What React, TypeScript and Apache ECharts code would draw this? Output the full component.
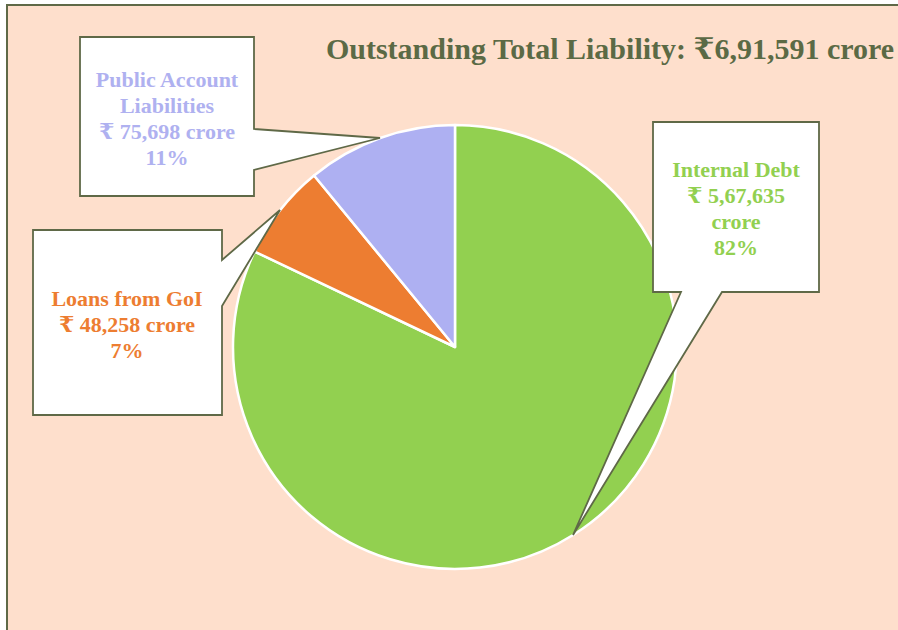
import React, { useEffect, useRef } from "react";
import * as echarts from "echarts";

const categories = ["Internal Debt", "Loans from GoI", "Public Account Liabilities"];
const labelLines = [["Internal Debt"], ["Loans from GoI"], ["Public Account", "Liabilities"]];
const values = [567635, 48258, 75698];
const totalLiability = 691591;
const colors = ["#92D050", "#ED7D31", "#AEB0F2"];
const textColors = ["#92D050", "#ED7D31", "#AFB1F0"];

function indianFormat(n: number): string {
  const s = String(n);
  if (s.length <= 3) return s;
  const last3 = s.slice(-3);
  let rest = s.slice(0, -3);
  const parts: string[] = [];
  while (rest.length > 2) {
    parts.unshift(rest.slice(-2));
    rest = rest.slice(0, -2);
  }
  if (rest) parts.unshift(rest);
  return parts.join(",") + "," + last3;
}

const OLIVE = "#5F6947";
const PEACH = "#FEDFCC";
const FONT = "'Liberation Serif', 'Times New Roman', 'DejaVu Serif', serif";

export default function App() {
  const ref = useRef<HTMLDivElement>(null);
  useEffect(() => {
    if (!ref.current) return;
    const chart = echarts.init(ref.current, undefined, { renderer: "svg" });
    const total = values.reduce((a, b) => a + b, 0);
    const pct = values.map((v) => Math.round((v / total) * 100));

    const internalText = [
      ...labelLines[0],
      "₹ " + indianFormat(values[0]),
      "crore",
      pct[0] + "%",
    ].join("\n");
    const loansText = [
      ...labelLines[1],
      "₹ " + indianFormat(values[1]) + " crore",
      pct[1] + "%",
    ].join("\n");
    const publicText = [
      ...labelLines[2],
      "₹ " + indianFormat(values[2]) + " crore",
      pct[2] + "%",
    ].join("\n");

    const calloutStyle = { fill: "#FFFFFF", stroke: OLIVE, lineWidth: 1.8 };
    const textStyle = (txt: string, color: string) => ({
      text: txt,
      fill: color,
      font: `bold 22px ${FONT}`,
      align: "center",
      verticalAlign: "middle",
      lineHeight: 26,
    });

    chart.setOption({
      animation: false,
      backgroundColor: "#FFFFFF",
      graphic: [
        {
          type: "rect",
          z: -10,
          shape: { x: 7, y: 5, width: 900, height: 640 },
          style: { fill: PEACH, stroke: OLIVE, lineWidth: 2 },
        },
        {
          type: "text",
          z: 5,
          x: 610,
          y: 48,
          style: {
            text: "Outstanding Total Liability: ₹" + indianFormat(totalLiability) + " crore",
            fill: "#5B6A45",
            font: `bold 30px ${FONT}`,
            align: "center",
            verticalAlign: "middle",
          },
        },
        {
          type: "polygon",
          z: 100,
          shape: {
            points: [
              [80, 37], [254, 37], [254, 129], [380, 138], [254, 170], [254, 196], [80, 196],
            ],
          },
          style: calloutStyle,
        },
        {
          type: "text",
          z: 101,
          x: 167,
          y: 118,
          style: textStyle(publicText, textColors[2]),
        },
        {
          type: "polygon",
          z: 100,
          shape: {
            points: [
              [33, 230], [222, 230], [222, 260], [280, 210], [222, 306], [222, 415], [33, 415],
            ],
          },
          style: calloutStyle,
        },
        {
          type: "text",
          z: 101,
          x: 127,
          y: 324,
          style: textStyle(loansText, textColors[1]),
        },
        {
          type: "polygon",
          z: 100,
          shape: {
            points: [
              [653, 122], [819, 122], [819, 292], [722, 292], [573, 535], [681, 292], [653, 292],
            ],
          },
          style: calloutStyle,
        },
        {
          type: "text",
          z: 101,
          x: 736,
          y: 208,
          style: textStyle(internalText, textColors[0]),
        },
      ],
      series: [
        {
          type: "pie",
          z: 2,
          center: [455, 347],
          radius: 222,
          startAngle: 90,
          clockwise: true,
          label: { show: false },
          labelLine: { show: false },
          emphasis: { disabled: true },
          itemStyle: { borderColor: "#FFFFFF", borderWidth: 2.5 },
          data: categories.map((name, i) => ({
            name,
            value: values[i],
            itemStyle: { color: colors[i] },
          })),
        },
      ],
    });
    return () => chart.dispose();
  }, []);
  return (
    <div
      ref={ref}
      style={{ position: "fixed", left: 0, top: 0, width: 898, height: 630 }}
    />
  );
}
